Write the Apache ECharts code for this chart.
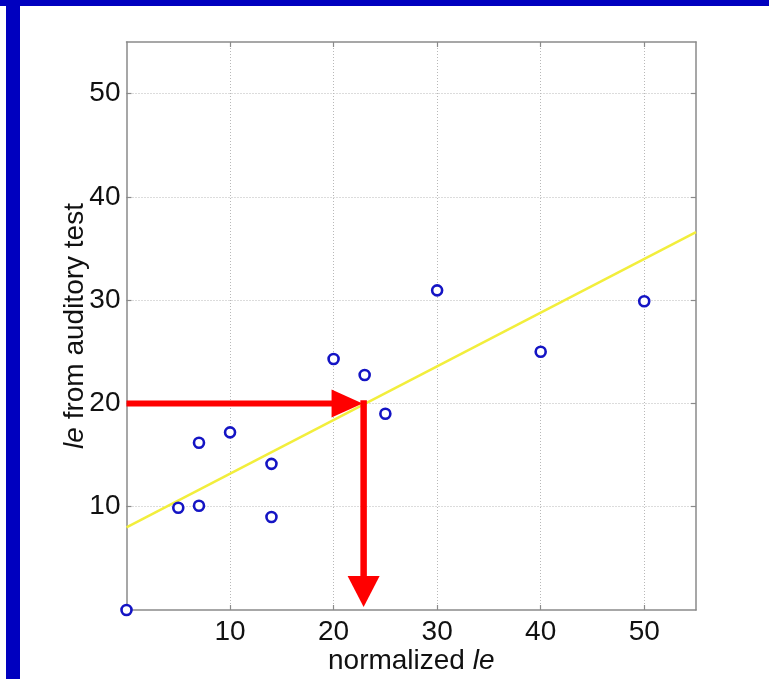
<!DOCTYPE html>
<html>
<head>
<meta charset="utf-8">
<script src="https://cdn.jsdelivr.net/npm/echarts@6/dist/echarts.min.js"></script>
<style>
html,body{margin:0;padding:0;background:#fff;}
#chart{width:769px;height:679px;}
</style>
</head>
<body>
<div id="chart"></div>
<script>
// Data
const xValues = [0, 5, 7, 7, 10, 14, 14, 20, 23, 25, 30, 40, 50];
const yValues = [0, 9.9, 10.1, 16.2, 17.2, 14.15, 9.0, 24.3, 22.75, 19.0, 30.95, 25.0, 29.9];
const fitIntercept = 8.0;
const fitSlope = 0.52;
const fitX = [0, 55];
const readY = 20;       // value read on the y axis
const readX = 22.9;     // corresponding normalized le
const tickValues = [10, 20, 30, 40, 50];
const xName = 'normalized ';
const yName = ' from auditory test';
const italicPart = 'le';

const points = xValues.map((x, i) => [x, yValues[i]]);
const fitLine = fitX.map(x => [x, fitIntercept + fitSlope * x]);

const chart = echarts.init(document.getElementById('chart'));
const font = 'Liberation Sans, Arial, Helvetica, sans-serif';
const frameColor = '#8a8a8a';
const gridLine = {show: true, lineStyle: {color: '#b8b8b8', type: [1, 2], width: 1}};

const baseAxis = {
  min: 0, max: 55, interval: 10,
  axisLine: {show: true, onZero: false, lineStyle: {color: frameColor, width: 1.5}},
  axisTick: {show: true, inside: true, length: 5, lineStyle: {color: frameColor, width: 1.2},
    customValues: tickValues},
  splitLine: {show: false},
};

chart.setOption({
  animation: false,
  backgroundColor: '#fff',
  grid: {left: 126.5, right: 73, top: 42, bottom: 69, containLabel: false, outerBoundsMode: 'none'},
  xAxis: [
    Object.assign({}, baseAxis, {
      type: 'value', position: 'bottom',
      splitLine: gridLine,
      axisLabel: {show: true, fontFamily: font, fontSize: 28, color: '#111', margin: 8,
        customValues: tickValues},
      name: '{n|' + xName + '}{i|' + italicPart + '}',
      nameLocation: 'middle', nameGap: 37, nameMoveOverlap: false,
      nameTextStyle: {fontFamily: font, fontSize: 28, color: '#111',
        rich: {n: {fontFamily: font, fontSize: 28, color: '#111'},
               i: {fontFamily: font, fontSize: 28, color: '#111', fontStyle: 'italic'}}}
    }),
    Object.assign({}, baseAxis, {
      type: 'value', position: 'top', axisLabel: {show: false}
    })
  ],
  yAxis: [
    Object.assign({}, baseAxis, {
      type: 'value', position: 'left',
      splitLine: gridLine,
      axisLabel: {show: true, fontFamily: font, fontSize: 28, color: '#111', margin: 6,
        customValues: tickValues},
      name: '{i|' + italicPart + '}{n|' + yName + '}',
      nameLocation: 'middle', nameGap: 37, nameMoveOverlap: false,
      nameTextStyle: {fontFamily: font, fontSize: 28, color: '#111',
        rich: {n: {fontFamily: font, fontSize: 28, color: '#111'},
               i: {fontFamily: font, fontSize: 28, color: '#111', fontStyle: 'italic'}}}
    }),
    Object.assign({}, baseAxis, {
      type: 'value', position: 'right', axisLabel: {show: false}
    })
  ],
  graphic: [
    {type: 'rect', left: 0, top: 0, shape: {width: 769, height: 6}, style: {fill: '#0000BF'}, z: 100},
    {type: 'rect', left: 6, top: 0, shape: {width: 14, height: 679}, style: {fill: '#0000BF'}, z: 100}
  ],
  series: [
    {
      type: 'line', data: fitLine, showSymbol: false, symbol: 'none',
      lineStyle: {color: '#F2EE3C', width: 2.5}, z: 2, silent: true
    },
    {
      type: 'scatter', data: points, symbol: 'circle', symbolSize: 10,
      itemStyle: {color: '#ffffff', borderColor: '#1414c4', borderWidth: 2.6, opacity: 1}, z: 3
    },
    {
      type: 'line', data: [[0, readY], [readX - 1.6, readY]], showSymbol: false, symbol: 'none',
      lineStyle: {color: '#FF0000', width: 6, cap: 'butt'}, z: 4
    },
    {
      type: 'line', data: [[readX, readY + 0.3], [readX, 2.0]], showSymbol: false, symbol: 'none',
      lineStyle: {color: '#FF0000', width: 6.5, cap: 'butt'}, z: 4
    },
    {
      type: 'scatter', data: [[readX - 1.6, readY]], symbol: 'triangle',
      symbolSize: [28, 31], symbolRotate: -90,
      itemStyle: {color: '#FF0000', opacity: 1}, z: 5
    },
    {
      type: 'scatter', data: [[readX, 1.8]], symbol: 'triangle',
      symbolSize: [32, 31], symbolRotate: 180,
      itemStyle: {color: '#FF0000', opacity: 1}, z: 5
    }
  ]
});
</script>
</body>
</html>
